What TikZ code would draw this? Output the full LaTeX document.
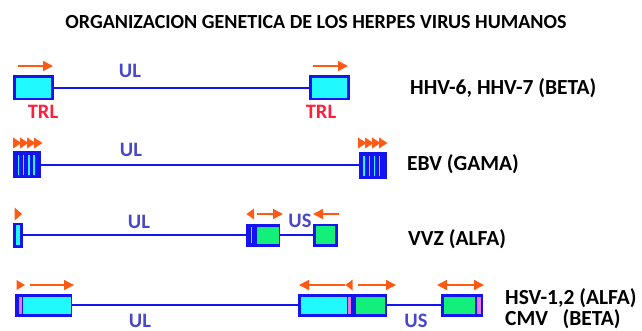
\documentclass[tikz,border=0pt]{standalone}
\usepackage{fontspec}
\setmainfont{Carlito}
\usetikzlibrary{arrows.meta}
\definecolor{gblue}{HTML}{1414F0}
\definecolor{gcyan}{HTML}{20FAFF}
\definecolor{ggreen}{HTML}{12F07A}
\definecolor{gpink}{HTML}{E878E0}
\definecolor{gorange}{HTML}{FF5A14}
\definecolor{gred}{HTML}{FF1E3C}
\definecolor{gtxt}{HTML}{4848C8}
\tikzset{
  gbox/.style={draw=gblue, line width=2.6pt, inner sep=0pt, outer sep=0pt, fill=gblue},
  gline/.style={draw=gblue, line width=2.6pt},
  garr/.style={draw=gorange, line width=1.5pt, -{Triangle[length=10pt,width=10pt]}},
  gdarr/.style={draw=gorange, line width=1.5pt, {Triangle[length=10pt,width=10pt]}-{Triangle[length=10pt,width=10pt]}},
  gtri/.style={fill=gorange},
  seglabel/.style={font=\bfseries\fontsize{20.5}{22}\selectfont, text=gtxt, inner sep=0pt},
  trllabel/.style={font=\bfseries\fontsize{20.5}{22}\selectfont, text=gred, inner sep=0pt},
  vlabel/.style={font=\bfseries\fontsize{21.5}{24}\selectfont, text=black, inner sep=0pt, anchor=west},
}
\begin{document}
\begin{tikzpicture}[x=1pt,y=-1pt]
\useasboundingbox (0,0) rectangle (642,331);
\node[font=\bfseries\fontsize{20}{22}\selectfont, inner sep=0pt] (title) at (316,22) {ORGANIZACION GENETICA DE LOS HERPES VIRUS HUMANOS};

% ---------- Row 1: HHV-6, HHV-7
\node[gbox, fill=gcyan, minimum width=38.4pt, minimum height=22.4pt] (r1a) at (33.5,88) {};
\node[gbox, fill=gcyan, minimum width=38.4pt, minimum height=22.4pt] (r1b) at (329.5,88) {};
\draw[gline] (r1a.east) -- (r1b.west);
\draw[garr] (18,66) -- (53,66);
\draw[garr] (313,66) -- (348,66);
\node[seglabel] (r1ul) at (130,71) {UL};
\node[trllabel] (r1t1) at (43,112) {TRL};
\node[trllabel] (r1t2) at (321,112) {TRL};
\node[vlabel] (r1lab) at (410,88) {HHV-6, HHV-7 (BETA)};

% ---------- Row 2: EBV
\node[gbox, minimum width=25.4pt, minimum height=24.4pt] (r2a) at (27,165) {};
\node[gbox, minimum width=25.4pt, minimum height=24.4pt] (r2b) at (372.5,166) {};
\draw[gline] (r2a.east) -- (r2b.west|-r2a.east);
\foreach \x in {18.5,23.7,28.9,34.1}{
  \draw[gcyan, line width=1.3pt] (\x,155.5) -- (\x,175);
  \draw[gcyan, line width=1.3pt] (\x+345.5,156.5) -- (\x+345.5,176);
}
\foreach \x in {13,20,27,34}{
  \fill[gtri] (\x,137.5) -- (\x+8.5,143) -- (\x,148.5) -- cycle;
  \fill[gtri] (\x+345,137.5) -- (\x+353.5,143) -- (\x+345,148.5) -- cycle;
}
\node[seglabel] (r2ul) at (131,150) {UL};
\node[vlabel] (r2lab) at (407,164) {EBV (GAMA)};

% ---------- Row 3: VVZ
\node[gbox, fill=gcyan, minimum width=6.6pt, minimum height=22.4pt] (r3a) at (18,235) {};
\node[gbox, minimum width=31.4pt, minimum height=20.4pt] (r3b) at (263,235) {};
\node[gbox, fill=ggreen, minimum width=22.4pt, minimum height=20.4pt] (r3c) at (325.5,235) {};
\fill[ggreen] (257,226.5) rectangle (278.7,243.5);
\draw[gcyan, line width=1.3pt] (251.5,227) -- (251.5,243);
\draw[gline] (r3a.east) -- (r3b.west);
\draw[gline] (r3b.east) -- (r3c.west);
\fill[gtri] (14.5,207.5) -- (22,214) -- (14.5,220.5) -- cycle;
\fill[gtri] (254,208.5) -- (246.5,214) -- (254,219.5) -- cycle;
\draw[garr] (257,214) -- (283,214);
\draw[garr] (339,214) -- (313,214);
\node[seglabel] (r3ul) at (139,222) {UL};
\node[seglabel] (r3us) at (300,221) {US};
\node[vlabel] (r3lab) at (408,239) {VVZ (ALFA)};

% ---------- Row 4: HSV-1,2 / CMV
\node[gbox, minimum width=54.4pt, minimum height=20.4pt] (r4a) at (43.5,305) {};
\fill[gpink] (18.5,296.5) rectangle (21.5,313.5);
\fill[gcyan] (22.7,296.5) rectangle (70.5,313.5);
\node[gbox, minimum width=86.4pt, minimum height=20.4pt] (r4b) at (342.5,305) {};
\fill[gcyan] (300.5,296.5) rectangle (346.8,313.5);
\fill[gpink] (348,296.5) rectangle (351,313.5);
\fill[ggreen] (356,296.5) rectangle (384.5,313.5);
\node[gbox, minimum width=39.4pt, minimum height=20.4pt] (r4c) at (462,305) {};
\fill[ggreen] (443.5,296.5) rectangle (474.5,313.5);
\fill[gpink] (477,296.5) rectangle (480.5,313.5);
\draw[gline] (r4a.east) -- (r4b.west);
\draw[gline] (r4b.east) -- (r4c.west);
\fill[gtri] (16.5,280) -- (25,285) -- (16.5,290) -- cycle;
\draw[garr] (30,285) -- (74,285);
\draw[garr] (345,285) -- (299,285);
\fill[gtri] (352.5,279.5) -- (345.5,285) -- (352.5,290.5) -- cycle;
\draw[garr] (358,285) -- (396,285);
\draw[gdarr] (437,285) -- (484,285);
\node[seglabel] (r4ul) at (140,320.5) {UL};
\node[seglabel] (r4us) at (416,320.5) {US};
\node[vlabel] (r4lab1) at (505,298) {HSV-1,2 (ALFA)};
\node[vlabel] (r4lab2) at (505,319.5) {CMV\ \ \ (BETA)};
\end{tikzpicture}
\end{document}
